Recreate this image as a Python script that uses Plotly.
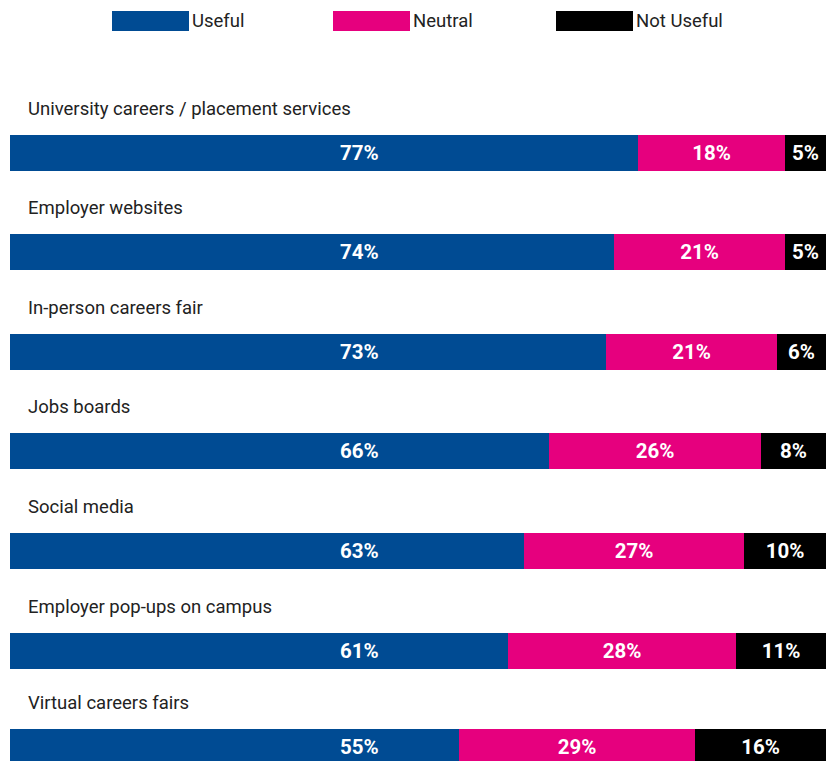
import plotly.graph_objects as go

categories = [
    "University careers / placement services",
    "Employer websites",
    "In-person careers fair",
    "Jobs boards",
    "Social media",
    "Employer pop-ups on campus",
    "Virtual careers fairs",
]
useful = [77, 74, 73, 66, 63, 61, 55]
neutral = [18, 21, 21, 26, 27, 28, 29]
not_useful = [5, 5, 6, 8, 10, 11, 16]

series_names = ["Useful", "Neutral", "Not Useful"]
series_colors = ["#004B93", "#E6007E", "#000000"]

W, H = 826, 761
ML, MR, MT, MB = 10, 0, 0, 0
BAR_PX = 36
# vertical centre of each row's bar, in pixels from the top of the page
row_centres = [153, 252, 352, 451, 551, 651, 747]

FONT = "Roboto, Arial, sans-serif"
LABEL_SIZE = 20.5
TEXT_SIZE = 18.5

fig = go.Figure()
for name, vals, col in zip(series_names, [useful, neutral, not_useful], series_colors):
    show_text = name != "Useful"
    fig.add_trace(go.Bar(
        y=row_centres, x=vals, name=name, orientation="h",
        marker=dict(color=col, line=dict(width=0)),
        width=BAR_PX,
        text=[f"{v}%" for v in vals] if show_text else None,
        textposition="inside" if show_text else "none",
        insidetextanchor="middle",
        constraintext="none",
        textfont=dict(family=FONT, size=LABEL_SIZE, color="white", weight="bold"),
        hoverinfo="skip",
        showlegend=False,
    ))

annotations = []
# "Useful" share labels sit at a common x position
for p, v in zip(row_centres, useful):
    annotations.append(dict(
        x=42.8, y=p, xref="x", yref="y", text=f"<b>{v}%</b>",
        showarrow=False, xanchor="center", yanchor="middle",
        font=dict(family=FONT, size=LABEL_SIZE, color="white"),
    ))
# category titles above each bar
for p, c in zip(row_centres, categories):
    annotations.append(dict(
        x=0, y=p, xref="x", yref="y", text=c, showarrow=False,
        xanchor="left", yanchor="middle", xshift=16, yshift=44,
        font=dict(family=FONT, size=TEXT_SIZE, color="#222222"),
    ))

# custom legend: wide swatches with labels
def px_x(px):
    return (px - ML) / (W - ML - MR)

def px_y(py):
    return 1 - (py - MT) / (H - MT - MB)

shapes = []
legend_x = [112, 333, 556]
for lx, name, col in zip(legend_x, series_names, series_colors):
    shapes.append(dict(
        type="rect", xref="paper", yref="paper",
        x0=px_x(lx), x1=px_x(lx + 77), y0=px_y(31), y1=px_y(11),
        fillcolor=col, line=dict(width=0), layer="above",
    ))
    annotations.append(dict(
        x=px_x(lx + 78), y=px_y(21), xref="paper", yref="paper",
        text=name, showarrow=False, xanchor="left", yanchor="middle",
        font=dict(family=FONT, size=TEXT_SIZE, color="#222222"),
    ))

fig.update_layout(
    barmode="stack",
    width=W, height=H,
    margin=dict(l=ML, r=MR, t=MT, b=MB, pad=0),
    paper_bgcolor="white", plot_bgcolor="white",
    bargap=0,
    xaxis=dict(range=[0, 100], visible=False, fixedrange=True),
    yaxis=dict(range=[H, 0], visible=False, fixedrange=True),
    annotations=annotations,
    shapes=shapes,
    showlegend=False,
)

fig.write_html("out.html", config={"displayModeBar": False})
